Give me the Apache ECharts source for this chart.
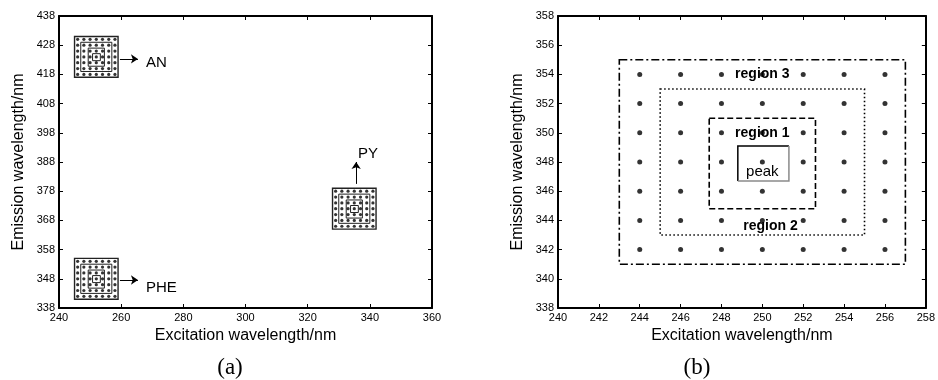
<!DOCTYPE html>
<html>
<head>
<meta charset="utf-8">
<script src="https://cdn.jsdelivr.net/npm/echarts@6/dist/echarts.min.js"></script>
<style>
  html, body { margin: 0; background: #fff; }
  #chart { width: 938px; height: 380px; }
</style>
</head>
<body>
<div id="chart"></div>
<script>
// scan grid round a peak (excitation x emission)
const excitationGrid = [244, 246, 248, 250, 252, 254, 256];
const emissionGrid = [342, 344, 346, 348, 350, 352, 354];
const gridCentre = [250, 348];

// (a) where each compound's grid sits
const compounds = ['AN', 'PHE', 'PY'];
const compoundEx = [252, 252, 335];
const compoundEm = [424, 348, 372];
const arrowFrom = [[259.6, 423.3], [259.6, 347.6], [335.6, 380.5]];
const arrowTo = [[265.4, 423.3], [265.4, 347.6], [335.6, 388]];
const compoundLabelAt = [[268, 421.8], [268, 345], [336.2, 390.7]];

// (b) boxes: peak, region 1, region 2, region 3
const regionNames = ['peak', 'region 1', 'region 2', 'region 3'];
const regionExFrom = [248.8, 247.4, 245, 243];
const regionExTo = [251.3, 252.6, 255, 257];
const regionEmFrom = [346.7, 344.8, 343, 341];
const regionEmTo = [349.1, 351, 353, 355];
const regionLabelEx = [250, 250, 250.4, 250];
const regionLabelEm = [347.3, 350, 343.6, 354];

const FONT = '"Liberation Sans", Arial, sans-serif';
const boxDash = [null, [6, 3], [1.5, 2.5], [8, 3, 2, 3]];

const points = [];
excitationGrid.forEach(x => emissionGrid.forEach(y => points.push([x, y])));

const iconPoints = [];
const iconBoxes = [];
compounds.forEach((c, i) => {
  const dx = compoundEx[i] - gridCentre[0], dy = compoundEm[i] - gridCentre[1];
  points.forEach(p => iconPoints.push([p[0] + dx, p[1] + dy]));
  regionNames.forEach((r, k) => {
    iconBoxes.push([regionExFrom[k] + dx, regionExTo[k] + dx, regionEmFrom[k] + dy, regionEmTo[k] + dy, k]);
  });
});
const regionBoxes = regionNames.map((r, k) => [regionExFrom[k], regionExTo[k], regionEmFrom[k], regionEmTo[k], k]);

function boxItem(small) {
  return function (params, api) {
    const k = api.value(4);
    const tl = api.coord([api.value(0), api.value(3)]);
    const br = api.coord([api.value(1), api.value(2)]);
    if (!small && k === 0) {
      // text box look: dark top/left, grey bottom/right
      return {
        type: 'group',
        children: [
          { type: 'polyline', shape: { points: [[tl[0], br[1]], [tl[0], tl[1]], [br[0], tl[1]]] },
            style: { stroke: '#000', lineWidth: 1.5, fill: null } },
          { type: 'polyline', shape: { points: [[br[0], tl[1]], [br[0], br[1]], [tl[0], br[1]]] },
            style: { stroke: '#8a8a8a', lineWidth: 1.5, fill: null } }
        ]
      };
    }
    return {
      type: 'rect',
      shape: { x: tl[0], y: tl[1], width: br[0] - tl[0], height: br[1] - tl[1] },
      style: {
        fill: null,
        stroke: small ? '#222' : '#000',
        lineWidth: small ? (k === 3 ? 1.4 : 1) : 1.6,
        lineDash: small ? null : boxDash[k]
      }
    };
  };
}

function textItem(names, align, fonts) {
  return function (params, api) {
    const p = api.coord([api.value(0), api.value(1)]);
    const i = params.dataIndex;
    return {
      type: 'text', x: p[0], y: p[1],
      style: {
        text: names[i], fill: '#000',
        font: typeof fonts === 'string' ? fonts : fonts[i],
        align: align, verticalAlign: 'middle'
      }
    };
  };
}

function axis(gridIndex, min, max, interval, position, extra) {
  return Object.assign({
    type: 'value', gridIndex, min, max, interval, position,
    axisLine: { show: true, onZero: false, lineStyle: { color: '#000', width: 2 } },
    axisTick: { show: true, inside: true, length: 4, lineStyle: { color: '#000', width: 1 } },
    axisLabel: { show: false },
    splitLine: { show: false }
  }, extra);
}

const tickLabel = { show: true, color: '#000', fontSize: 11, fontFamily: FONT, margin: 4 };
const titleStyle = { color: '#000', fontSize: 16, fontFamily: FONT };

const chart = echarts.init(document.getElementById('chart'));
chart.setOption({
  animation: false,
  backgroundColor: '#fff',
  grid: [
    { left: 59, top: 16, width: 373, height: 292 },
    { left: 558, top: 16, width: 372, height: 292 }
  ],
  xAxis: [
    axis(0, 240, 360, 20, 'bottom', { axisLabel: tickLabel, name: 'Excitation wavelength/nm',
      nameLocation: 'middle', nameGap: 20, nameTextStyle: titleStyle }),
    axis(0, 240, 360, 20, 'top'),
    axis(1, 240, 258, 2, 'bottom', { axisLabel: tickLabel, name: 'Excitation wavelength/nm',
      nameLocation: 'middle', nameGap: 20, nameTextStyle: titleStyle }),
    axis(1, 240, 258, 2, 'top')
  ],
  yAxis: [
    axis(0, 338, 438, 10, 'left', { axisLabel: tickLabel, name: 'Emission wavelength/nm',
      nameLocation: 'middle', nameGap: 32, nameTextStyle: titleStyle }),
    axis(0, 338, 438, 10, 'right'),
    axis(1, 338, 358, 2, 'left', { axisLabel: tickLabel, name: 'Emission wavelength/nm',
      nameLocation: 'middle', nameGap: 32, nameTextStyle: titleStyle }),
    axis(1, 338, 358, 2, 'right')
  ],
  graphic: [
    { type: 'text', x: 230, y: 368, style: { text: '(a)', font: '23px "Liberation Serif", serif', fill: '#000', align: 'center', verticalAlign: 'middle' } },
    { type: 'text', x: 697, y: 368, style: { text: '(b)', font: '23px "Liberation Serif", serif', fill: '#000', align: 'center', verticalAlign: 'middle' } }
  ],
  series: [
    {
      type: 'scatter', xAxisIndex: 0, yAxisIndex: 0, data: iconPoints,
      symbolSize: 3.2, itemStyle: { color: '#000' }, silent: true,
      markLine: {
        silent: true, animation: false, symbol: ['none', 'arrow'], symbolSize: 7,
        label: { show: false },
        lineStyle: { color: '#000', width: 1, type: 'solid' },
        data: arrowFrom.map((p, i) => [{ coord: p }, { coord: arrowTo[i] }])
      }
    },
    { type: 'custom', xAxisIndex: 0, yAxisIndex: 0, data: iconBoxes, encode: { x: [0, 1], y: [2, 3] },
      renderItem: boxItem(true), silent: true },
    { type: 'custom', xAxisIndex: 0, yAxisIndex: 0, data: compoundLabelAt,
      renderItem: textItem(compounds, 'left', '15px ' + FONT), silent: true },
    { type: 'scatter', xAxisIndex: 2, yAxisIndex: 2, data: points,
      symbolSize: 5, itemStyle: { color: '#000' }, silent: true },
    { type: 'custom', xAxisIndex: 2, yAxisIndex: 2, data: regionBoxes, encode: { x: [0, 1], y: [2, 3] },
      renderItem: boxItem(false), silent: true },
    { type: 'custom', xAxisIndex: 2, yAxisIndex: 2,
      data: regionLabelEx.map((x, i) => [x, regionLabelEm[i]]),
      renderItem: textItem(regionNames, 'center',
        regionNames.map((n, i) => i === 0 ? '15px ' + FONT : 'bold 14px ' + FONT)),
      silent: true }
  ]
});
</script>
</body>
</html>
